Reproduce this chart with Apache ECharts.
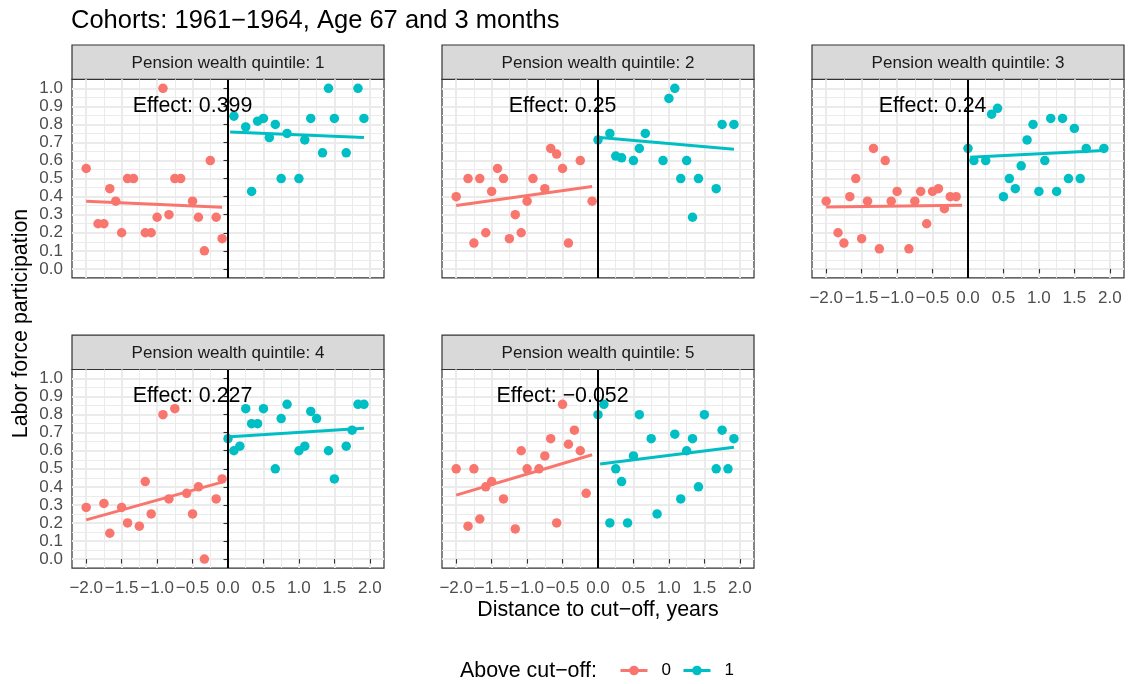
<!DOCTYPE html>
<html><head><meta charset="utf-8">
<script src="https://cdn.jsdelivr.net/npm/echarts@6/dist/echarts.min.js"></script>
<style>html,body{margin:0;padding:0;background:#fff}#chart{width:1129px;height:684px}</style>
</head><body><div id="chart"></div>
<script>
// ---------- data ----------
const chartTitle = 'Cohorts: 1961\u22121964, Age 67 and 3 months';
const panelTitles = ['Pension wealth quintile: 1','Pension wealth quintile: 2','Pension wealth quintile: 3','Pension wealth quintile: 4','Pension wealth quintile: 5'];
const effectLabels = ['Effect: 0.399','Effect: 0.25','Effect: 0.24','Effect: 0.227','Effect: \u22120.052'];
const effectPos = [-0.5, 0.9];
const cutoff = 0;
const groupNames = ['0','1'];
const legendTitle = 'Above cut\u2212off:';
const xTitle = 'Distance to cut\u2212off, years';
const yTitle = 'Labor force participation';

const xMajorTicks = [-2, -1.5, -1, -0.5, 0, 0.5, 1, 1.5, 2];
const xMinorTicks = [-1.75, -1.25, -0.75, -0.25, 0.25, 0.75, 1.25, 1.75];
const yMajorTicks = [0, 0.1, 0.2, 0.3, 0.4, 0.5, 0.6, 0.7, 0.8, 0.9, 1.0];
const yMinorTicks = [0.05, 0.15, 0.25, 0.35, 0.45, 0.55, 0.65, 0.75, 0.85, 0.95];

// Panel 1
const p1RedX = [-2.0, -1.833, -1.75, -1.667, -1.583, -1.5, -1.417, -1.333, -1.167, -1.083, -1.0, -0.917, -0.833, -0.75, -0.667, -0.5, -0.417, -0.333, -0.25, -0.167, -0.083];
const p1RedY = [0.556, 0.25, 0.25, 0.444, 0.375, 0.2, 0.5, 0.5, 0.2, 0.2, 0.286, 1.0, 0.3, 0.5, 0.5, 0.375, 0.286, 0.1, 0.6, 0.286, 0.167];
const p1TealX = [0.083, 0.25, 0.333, 0.417, 0.5, 0.583, 0.667, 0.75, 0.833, 1.0, 1.083, 1.167, 1.333, 1.417, 1.5, 1.667, 1.833, 1.917];
const p1TealY = [0.846, 0.786, 0.429, 0.818, 0.833, 0.727, 0.8, 0.5, 0.75, 0.5, 0.714, 0.833, 0.643, 1.0, 0.833, 0.643, 1.0, 0.833];
const p1RedFit = [[-2.0, 0.374], [-0.083, 0.341]];
const p1TealFit = [[0.03, 0.758], [1.917, 0.727]];

// Panel 2
const p2RedX = [-2.0, -1.833, -1.75, -1.667, -1.583, -1.5, -1.417, -1.333, -1.25, -1.167, -1.083, -1.0, -0.917, -0.75, -0.667, -0.583, -0.5, -0.417, -0.25, -0.083];
const p2RedY = [0.4, 0.5, 0.143, 0.5, 0.2, 0.429, 0.556, 0.5, 0.167, 0.3, 0.2, 0.375, 0.5, 0.444, 0.667, 0.636, 0.556, 0.143, 0.6, 0.375];
const p2TealX = [0.0, 0.167, 0.25, 0.333, 0.5, 0.583, 0.667, 0.917, 1.0, 1.083, 1.167, 1.25, 1.333, 1.417, 1.667, 1.75, 1.917];
const p2TealY = [0.714, 0.75, 0.625, 0.615, 0.6, 0.667, 0.75, 0.6, 0.944, 1.0, 0.5, 0.6, 0.286, 0.5, 0.444, 0.8, 0.8];
const p2RedFit = [[-2.0, 0.351], [-0.083, 0.456]];
const p2TealFit = [[0.03, 0.727], [1.917, 0.662]];

// Panel 3
const p3RedX = [-2.0, -1.833, -1.75, -1.667, -1.583, -1.5, -1.417, -1.333, -1.25, -1.167, -1.083, -1.0, -0.833, -0.75, -0.667, -0.583, -0.5, -0.417, -0.333, -0.25, -0.167];
const p3RedY = [0.375, 0.2, 0.143, 0.4, 0.5, 0.167, 0.375, 0.667, 0.111, 0.6, 0.375, 0.429, 0.111, 0.375, 0.429, 0.25, 0.429, 0.444, 0.333, 0.4, 0.4];
const p3TealX = [0.0, 0.083, 0.25, 0.333, 0.417, 0.5, 0.583, 0.667, 0.75, 0.833, 0.917, 1.0, 1.083, 1.167, 1.25, 1.333, 1.417, 1.5, 1.583, 1.667, 1.917];
const p3TealY = [0.667, 0.6, 0.6, 0.857, 0.889, 0.4, 0.5, 0.444, 0.571, 0.714, 0.8, 0.429, 0.6, 0.833, 0.429, 0.833, 0.5, 0.778, 0.5, 0.667, 0.667];
const p3RedFit = [[-2.0, 0.343], [-0.083, 0.352]];
const p3TealFit = [[0.03, 0.618], [1.917, 0.655]];

// Panel 4
const p4RedX = [-2.0, -1.75, -1.667, -1.5, -1.417, -1.25, -1.167, -1.083, -0.917, -0.833, -0.75, -0.583, -0.5, -0.417, -0.333, -0.167, -0.083];
const p4RedY = [0.286, 0.308, 0.143, 0.286, 0.2, 0.182, 0.429, 0.25, 0.8, 0.333, 0.833, 0.364, 0.25, 0.4, 0.0, 0.333, 0.444];
const p4TealX = [0.0, 0.083, 0.167, 0.25, 0.333, 0.417, 0.5, 0.667, 0.75, 0.833, 1.0, 1.083, 1.167, 1.25, 1.417, 1.5, 1.667, 1.75, 1.833, 1.917];
const p4TealY = [0.667, 0.6, 0.625, 0.833, 0.75, 0.75, 0.833, 0.5, 0.778, 0.857, 0.6, 0.625, 0.818, 0.778, 0.6, 0.444, 0.625, 0.714, 0.857, 0.857];
const p4RedFit = [[-2.0, 0.217], [-0.083, 0.426]];
const p4TealFit = [[0.03, 0.678], [1.917, 0.724]];

// Panel 5
const p5RedX = [-2.0, -1.833, -1.75, -1.667, -1.583, -1.5, -1.333, -1.167, -1.083, -1.0, -0.833, -0.75, -0.667, -0.583, -0.5, -0.417, -0.333, -0.25, -0.167];
const p5RedY = [0.5, 0.182, 0.5, 0.222, 0.4, 0.429, 0.333, 0.167, 0.6, 0.5, 0.5, 0.571, 0.667, 0.2, 0.857, 0.636, 0.714, 0.6, 0.364];
const p5TealX = [0.0, 0.083, 0.167, 0.25, 0.333, 0.417, 0.5, 0.583, 0.75, 0.833, 1.083, 1.167, 1.25, 1.333, 1.417, 1.5, 1.667, 1.75, 1.833, 1.917];
const p5TealY = [0.8, 0.857, 0.2, 0.5, 0.429, 0.2, 0.571, 0.8, 0.667, 0.25, 0.692, 0.333, 0.6, 0.667, 0.4, 0.8, 0.5, 0.714, 0.5, 0.667];
const p5RedFit = [[-2.0, 0.354], [-0.083, 0.578]];
const p5TealFit = [[0.03, 0.526], [1.917, 0.619]];

// ---------- layout / style ----------
const RED = '#F8766D', TEAL = '#00BFC4';
const FONT = '"Liberation Sans", Arial, Helvetica, sans-serif';
const gridLeft = [72, 442, 812, 72, 442];
const gridTop = [79.3, 79.3, 79.3, 369.5, 369.5];
const gridW = 312, gridH = 198.6, stripH = 34.3;
const showX = [false, false, true, true, true];
const showY = [true, false, false, true, false];

const panels = [
  [p1RedX, p1RedY, p1TealX, p1TealY, p1RedFit, p1TealFit],
  [p2RedX, p2RedY, p2TealX, p2TealY, p2RedFit, p2TealFit],
  [p3RedX, p3RedY, p3TealX, p3TealY, p3RedFit, p3TealFit],
  [p4RedX, p4RedY, p4TealX, p4TealY, p4RedFit, p4TealFit],
  [p5RedX, p5RedY, p5TealX, p5TealY, p5RedFit, p5TealFit]
];

const fmt = v => (v < -1e-9 ? '\u2212' : '') + Math.abs(v).toFixed(1);
const zip = (a, b) => a.map((v, i) => [v, b[i]]);

const grids = [], xAxes = [], yAxes = [], series = [], graphics = [];
panels.forEach((p, g) => {
  grids.push({left: gridLeft[g], top: gridTop[g], width: gridW, height: gridH, show: true,
    borderColor: '#333333', borderWidth: 1.2, backgroundColor: '#ffffff'});
  xAxes.push({type: 'value', gridIndex: g, min: -2.2, max: 2.2,
    axisLine: {show: false},
    axisTick: {show: showX[g], customValues: xMajorTicks, length: 4.5, lineStyle: {color: '#333333', width: 1.1}},
    axisLabel: {show: showX[g], customValues: xMajorTicks, formatter: fmt, color: '#4D4D4D', fontSize: 17, margin: 12, fontFamily: FONT, hideOverlap: false},
    splitLine: {show: true, lineStyle: {color: '#EBEBEB', width: 2}}});
  xAxes.push({type: 'value', gridIndex: g, min: -2.2, max: 2.2,
    axisLine: {show: false},
    axisTick: {show: false, customValues: xMinorTicks},
    axisLabel: {show: false},
    splitLine: {show: true, lineStyle: {color: '#EBEBEB', width: 1}}});
  yAxes.push({type: 'value', gridIndex: g, min: -0.05, max: 1.05,
    axisLine: {show: false},
    axisTick: {show: showY[g], customValues: yMajorTicks, length: 4.5, lineStyle: {color: '#333333', width: 1.1}},
    axisLabel: {show: showY[g], customValues: yMajorTicks, formatter: fmt, color: '#4D4D4D', fontSize: 17, margin: 9, fontFamily: FONT, hideOverlap: false},
    splitLine: {show: true, lineStyle: {color: '#EBEBEB', width: 2}}});
  yAxes.push({type: 'value', gridIndex: g, min: -0.05, max: 1.05,
    axisLine: {show: false},
    axisTick: {show: false, customValues: yMinorTicks},
    axisLabel: {show: false},
    splitLine: {show: true, lineStyle: {color: '#EBEBEB', width: 1}}});
  const xi = 2 * g, yi = 2 * g;
  series.push({type: 'scatter', name: 'p0', xAxisIndex: xi, yAxisIndex: yi, data: zip(p[0], p[1]),
    symbolSize: 9.5, itemStyle: {color: RED, opacity: 1}, z: 3, silent: true});
  series.push({type: 'scatter', name: 'p1', xAxisIndex: xi, yAxisIndex: yi, data: zip(p[2], p[3]),
    symbolSize: 9.5, itemStyle: {color: TEAL, opacity: 1}, z: 3, silent: true});
  series.push({type: 'line', name: groupNames[0], xAxisIndex: xi, yAxisIndex: yi, data: p[4],
    symbol: 'circle', symbolSize: 9, showSymbol: false, lineStyle: {color: RED, width: 3}, itemStyle: {color: RED}, z: 4, silent: true});
  series.push({type: 'line', name: groupNames[1], xAxisIndex: xi, yAxisIndex: yi, data: p[5],
    symbol: 'circle', symbolSize: 9, showSymbol: false, lineStyle: {color: TEAL, width: 3}, itemStyle: {color: TEAL}, z: 4, silent: true});
  series.push({type: 'scatter', name: 'effect', xAxisIndex: xi, yAxisIndex: yi, data: [effectPos],
    symbolSize: 0, silent: true, z: 5, itemStyle: {opacity: 1},
    label: {show: true, position: 'inside', formatter: effectLabels[g], fontSize: 21.4, color: '#000000',
      textBorderWidth: 0, opacity: 1, fontFamily: FONT},
    markLine: {silent: true, symbol: 'none', z: 10, label: {show: false}, animation: false,
      lineStyle: {color: '#000', width: 2, type: 'solid'}, emphasis: {disabled: true},
      data: [{xAxis: cutoff}]}});
  // strip
  graphics.push({type: 'rect', shape: {x: gridLeft[g], y: gridTop[g] - stripH, width: gridW, height: stripH},
    style: {fill: '#D9D9D9', stroke: '#333333', lineWidth: 1.2}, silent: true});
  graphics.push({type: 'text', x: gridLeft[g] + gridW / 2, y: gridTop[g] - stripH / 2 + 1,
    style: {text: panelTitles[g], fill: '#1A1A1A', font: '17px ' + FONT, textAlign: 'center', textVerticalAlign: 'middle'}, silent: true});
});

graphics.push({type: 'text', x: 21, y: 323.5, rotation: Math.PI / 2,
  style: {text: yTitle, fill: '#000', font: '21.4px ' + FONT, textAlign: 'center', textVerticalAlign: 'middle'}});
graphics.push({type: 'text', x: 598, y: 610.5,
  style: {text: xTitle, fill: '#000', font: '21.4px ' + FONT, textAlign: 'center', textVerticalAlign: 'middle'}});
graphics.push({type: 'text', x: 460, y: 671,
  style: {text: legendTitle, fill: '#000', font: '21.4px ' + FONT, textAlign: 'left', textVerticalAlign: 'middle'}});

const chart = echarts.init(document.getElementById('chart'), null, {renderer: 'canvas'});
chart.setOption({
  animation: false,
  backgroundColor: '#ffffff',
  title: {text: chartTitle, left: 71, top: 8, padding: 0,
    textStyle: {fontSize: 25.5, fontWeight: 'normal', color: '#000', fontFamily: FONT}},
  legend: {data: groupNames, left: 619, top: 662, padding: 0, itemWidth: 27, itemHeight: 12, itemGap: 11,
    lineStyle: {width: 3}, selectedMode: false,
    textStyle: {fontSize: 17, color: '#000', fontFamily: FONT, padding: [0, 0, 0, 9]}},
  grid: grids, xAxis: xAxes, yAxis: yAxes, series: series, graphic: graphics
});
</script></body></html>
